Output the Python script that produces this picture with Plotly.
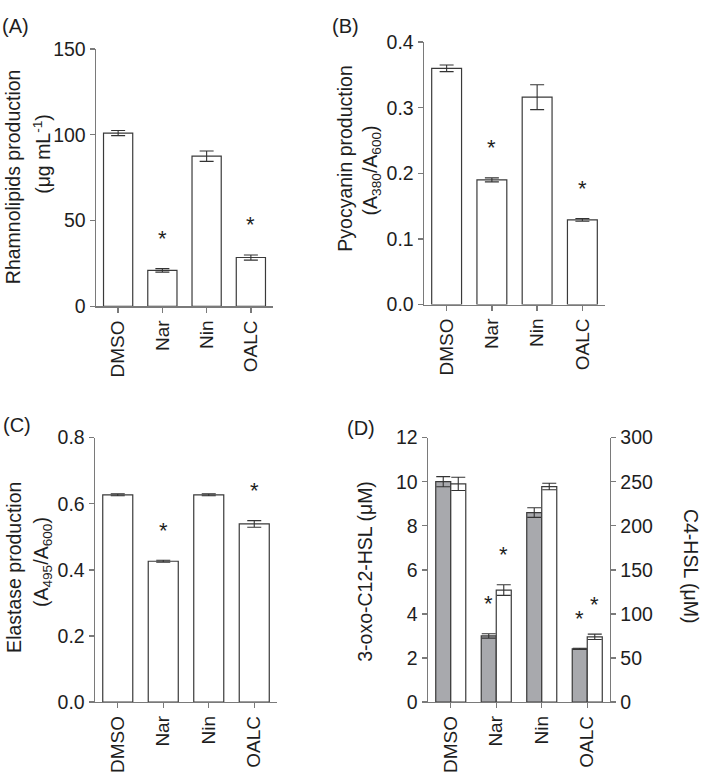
import plotly.graph_objects as go

W, H = 704, 782
FONT = "Arial, Liberation Sans, sans-serif"
TXT = "#1e1e1e"
AX = "#7a7a7a"
EDGE = "#3a3a3a"
GREY = "#a8a9ad"
FS = 19.5

categories = ["DMSO", "Nar", "Nin", "OALC"]

# (A) Rhamnolipids
rham_vals = [101.0, 21.0, 87.5, 28.5]
rham_err = [1.5, 1.0, 3.0, 1.5]
rham_sig = [False, True, False, True]

# (B) Pyocyanin
pyo_vals = [0.360, 0.190, 0.316, 0.129]
pyo_err = [0.005, 0.003, 0.019, 0.002]
pyo_sig = [False, True, False, True]

# (C) Elastase
ela_vals = [0.627, 0.426, 0.627, 0.539]
ela_err = [0.003, 0.003, 0.003, 0.010]
ela_sig = [False, True, False, True]

# (D) AHLs
oxo_vals = [10.0, 3.0, 8.6, 2.41]
oxo_err = [0.23, 0.10, 0.22, 0.03]
oxo_sig = [False, True, False, True]
c4_vals = [247.5, 127.0, 244.5, 74.0]
c4_err = [7.5, 6.0, 3.7, 3.0]
c4_sig = [False, True, False, True]


def px_x(p):
    return p / W


def px_y(p):
    return 1 - p / H


fig = go.Figure()

# panel boxes in pixels: (left, right, top, bottom)
panels = {
    1: (96, 273, 39, 304),
    2: (424, 605, 32, 302),
    3: (95, 277, 439, 711),
    4: (428, 610, 439, 711),
}

err_style = dict(type="data", color="#333333", thickness=1.1, width=7)

def add_bar(vals, errs, xa, ya, color="white", **kw):
    fig.add_trace(go.Bar(
        x=categories, y=vals, xaxis=xa, yaxis=ya,
        marker=dict(color=color, line=dict(color=EDGE, width=1.2)),
        error_y=dict(array=errs, **err_style),
        showlegend=False, hoverinfo="skip", **kw))

add_bar(rham_vals, rham_err, "x", "y")
add_bar(pyo_vals, pyo_err, "x2", "y2")
add_bar(ela_vals, ela_err, "x3", "y3")
add_bar(oxo_vals, oxo_err, "x4", "y4", color=GREY, width=0.33, offset=-0.33)
add_bar(c4_vals, c4_err, "x4", "y5", color="white", width=0.33, offset=0.0)

ann = []

def stars(vals, errs, sig, xa, ya, xshift=0):
    for c, v, e, s in zip(categories, vals, errs, sig):
        if s:
            ann.append(dict(x=c, y=v + e, xref=xa, yref=ya, text="*",
                            showarrow=False, yanchor="middle", yshift=30,
                            xshift=xshift,
                            font=dict(size=22, color=TXT, family=FONT)))

stars(rham_vals, rham_err, rham_sig, "x", "y")
stars(pyo_vals, pyo_err, pyo_sig, "x2", "y2")
stars(ela_vals, ela_err, ela_sig, "x3", "y3")
stars(oxo_vals, oxo_err, oxo_sig, "x4", "y4", xshift=-7.5)
stars(c4_vals, c4_err, c4_sig, "x4", "y5", xshift=7.5)

def label(text, cx, cy, angle=-90, size=FS):
    ann.append(dict(x=px_x(cx), y=px_y(cy), xref="paper", yref="paper",
                    text=text, showarrow=False, textangle=angle,
                    xanchor="center", yanchor="middle",
                    font=dict(size=size, color=TXT, family=FONT)))

label("Rhamnolipids production", 13, 171)
label("(μg mL<sup>-1</sup>)", 42, 147)
label("Pyocyanin production", 345, 152)
label("(A<sub>380</sub>/A<sub>600</sub>)", 371, 164)
label("Elastase production", 14, 573)
label("(A<sub>495</sub>/A<sub>600</sub>)", 42, 567)
label("3-oxo-C12-HSL (μM)", 365, 577)
label("C4-HSL (μM)", 691, 571, angle=90)

def panel_label(text, lx, cy):
    ann.append(dict(x=px_x(lx), y=px_y(cy), xref="paper", yref="paper",
                    text=text, showarrow=False, xanchor="left", yanchor="middle",
                    font=dict(size=20, color=TXT, family=FONT)))

panel_label("(A)", 0, 15)
panel_label("(B)", 330, 15)
panel_label("(C)", 1, 426)
panel_label("(D)", 345, 429)

layout = dict(
    width=W, height=H,
    margin=dict(l=0, r=0, t=0, b=0),
    paper_bgcolor="white", plot_bgcolor="white",
    barmode="group", bargap=0.34,
    font=dict(family=FONT, size=FS, color=TXT),
    annotations=ann,
)

xcommon = dict(type="category", range=[-0.5, 3.5], showline=True, linecolor=AX,
               linewidth=1.4, ticks="outside", ticklen=5, tickcolor=AX,
               tickwidth=1.4, tickangle=-90, showgrid=False, zeroline=False,
               tickfont=dict(size=19, color=TXT, family=FONT))
ycommon = dict(showline=True, linecolor=AX, linewidth=1.4, ticks="outside",
               ticklen=5, tickcolor=AX, tickwidth=1.4, showgrid=False,
               zeroline=False, tickfont=dict(size=FS, color=TXT, family=FONT))

yspecs = {
    1: dict(range=[0, 150], tickvals=[0, 50, 100, 150]),
    2: dict(range=[0, 0.4], tickvals=[0, 0.1, 0.2, 0.3, 0.4], tickformat=".1f"),
    3: dict(range=[0, 0.8], tickvals=[0, 0.2, 0.4, 0.6, 0.8], tickformat=".1f"),
    4: dict(range=[0, 12], tickvals=[0, 2, 4, 6, 8, 10, 12]),
}

for i, (l, r, t, b) in panels.items():
    sfx = "" if i == 1 else str(i)
    layout["xaxis" + sfx] = dict(xcommon, domain=[px_x(l), px_x(r)],
                                  anchor="y" + sfx)
    layout["yaxis" + sfx] = dict(ycommon, domain=[px_y(b), px_y(t)],
                                  anchor="x" + sfx, **yspecs[i])

layout["yaxis5"] = dict(ycommon, overlaying="y4", side="right", anchor="x4",
                        range=[0, 300], tickvals=[0, 50, 100, 150, 200, 250, 300])

fig.update_layout(**layout)
fig.write_html("out.html",
               config={"displayModeBar": False, "staticPlot": True},
               post_script="document.body.style.margin='0';"
                           "document.body.style.padding='0';"
                           "document.body.style.overflow='hidden';")
